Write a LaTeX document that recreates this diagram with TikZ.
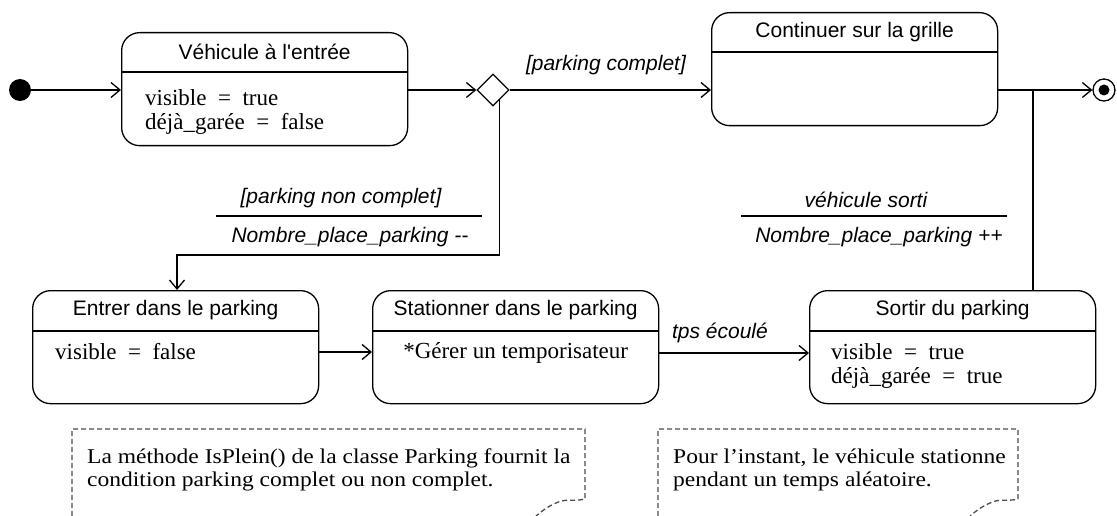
\documentclass[tikz,border=0pt]{standalone}
\usepackage{fontspec}
\setmainfont{Liberation Serif}
\newfontfamily\arialf{Liberation Sans}
\newfontfamily\notef[FakeStretch=1.12]{Liberation Serif}
\usetikzlibrary{arrows.meta,shapes.geometric,calc}
\newcommand{\eqsign}{\enspace=\enspace}
\begin{document}
\begin{tikzpicture}[x=1pt,y=-1pt,
  statebox/.style={draw, line width=1.3pt, rounded corners=18pt, minimum width=286pt, minimum height=113pt, anchor=north west, inner sep=0pt},
  sepline/.style={line width=1.3pt},
  titletxt/.style={font=\arialf\fontsize{21}{25}\selectfont, inner sep=0pt},
  attrtxt/.style={font=\fontsize{23}{25}\selectfont, anchor=west, inner sep=0pt},
  lbl/.style={font=\arialf\itshape\fontsize{21}{25}\selectfont, inner sep=0pt},
  conn/.style={line width=1.3pt},
  arr/.style={conn, -{Straight Barb[length=9pt,width=15pt,line width=1.3pt]}},
  notetxt/.style={font=\notef\fontsize{21}{23}\selectfont, align=left, anchor=north west, inner sep=0pt},
  notebox/.style={dash pattern=on 5pt off 3pt, line width=1.3pt, draw=black!70},
]
\useasboundingbox[fill=white] (0,0) rectangle (1117,516);

% initial state
\node[circle, fill, minimum size=22pt, inner sep=0pt] (init) at (20,90) {};

% Vehicule a l'entree
\node[statebox] (veh) at (121,32) {};
\draw[sepline] ($(veh.north west)+(0,40)$) -- ($(veh.north east)+(0,40)$);
\node[titletxt] (vehT) at ($(veh.north)+(0,20)$) {Véhicule à l\textquotesingle entrée};
\node[attrtxt] (vehA) at ($(veh.north west)+(24,66)$) {visible\eqsign true};
\node[attrtxt] (vehB) at ($(veh.north west)+(24,92)$) {déjà\_garée\eqsign false};

% decision
\node[diamond, draw, line width=1.3pt, minimum width=32pt, minimum height=32pt, inner sep=0pt, fill=white] (dia) at (493,90) {};

% Continuer sur la grille
\node[statebox] (cont) at (711,12) {};
\draw[sepline] ($(cont.north west)+(0,40)$) -- ($(cont.north east)+(0,40)$);
\node[titletxt] (contT) at ($(cont.north)+(0,20)$) {Continuer sur la grille};

% final state
\node[circle, draw, line width=1.3pt, fill=white, minimum size=22pt, inner sep=0pt] (fin) at (1104,90) {};
\node[circle, fill, minimum size=11pt, inner sep=0pt] (finIn) at (fin.center) {};

% lower states
\node[statebox] (ent) at (32,290) {};
\draw[sepline] ($(ent.north west)+(0,41)$) -- ($(ent.north east)+(0,41)$);
\node[titletxt] (entT) at ($(ent.north)+(0,20)$) {Entrer dans le parking};
\node[attrtxt] (entA) at ($(ent.north west)+(23,62)$) {visible\eqsign false};

\node[statebox] (stat) at (372,290) {};
\draw[sepline] ($(stat.north west)+(0,41)$) -- ($(stat.north east)+(0,41)$);
\node[titletxt] (statT) at ($(stat.north)+(0,20)$) {Stationner dans le parking};
\node[attrtxt, anchor=center] (statA) at ($(stat.north)+(0,63)$) {*Gérer un temporisateur};

\node[statebox] (sortir) at (809,290) {};
\draw[sepline] ($(sortir.north west)+(0,41)$) -- ($(sortir.north east)+(0,41)$);
\node[titletxt] (sortT) at ($(sortir.north)+(0,20)$) {Sortir du parking};
\node[attrtxt] (sortA) at ($(sortir.north west)+(22,62)$) {visible\eqsign true};
\node[attrtxt] (sortB) at ($(sortir.north west)+(22,88)$) {déjà\_garée\eqsign true};

% connectors
\draw[arr] (init) -- (init -| veh.west);
\draw[arr] (veh.east |- dia) -- (dia.west);
\draw[arr] (dia.east) -- (dia.east -| cont.west);
\node[lbl] (lblC) at (606,65) {[parking complet]};
\coordinate (j) at (1033,90);
\draw[arr] (cont.east |- dia) -- (fin.west);
\draw[conn] (sortir.north -| j) -- (j);

\coordinate (dstart) at ($(dia.south)!0.375!(dia.east)$);
\coordinate (bend) at (177,255);
\draw[arr] (dstart) |- (bend) -- (bend |- ent.north);

\node[lbl] (lblNC) at (341,198) {[parking non complet]};
\draw[conn] (216,216) -- (482,216);
\node[lbl] (lblNM) at (350,237) {Nombre\_place\_parking --};

\node[lbl] (lblVS) at (866,200) {véhicule sorti};
\draw[conn] (741,216) -- (1007,216);
\node[lbl] (lblNP) at (879,237) {Nombre\_place\_parking ++};

\draw[arr] (ent.east |- entA) -- (entA -| stat.west);
\draw[arr] (stat.east |- statA) -- (statA -| sortir.west);
\node[lbl] (lblT) at (720,333) {tps écoulé};

% notes
\draw[notebox] (72,516) -- (72,429) -- (585,429) -- (585,499)
  .. controls (572,502) and (566,498) .. (556,503) .. controls (547,507) and (542,511) .. (536,516);
\node[notetxt] (n1) at (87,449) {La méthode IsPlein() de la classe Parking fournit la\\condition parking complet ou non complet.};

\draw[notebox] (658,516) -- (658,429) -- (1018,429) -- (1018,499)
  .. controls (1006,502) and (1000,498) .. (990,503) .. controls (981,507) and (976,511) .. (970,516);
\node[notetxt] (n2) at (673,449) {Pour l’instant, le véhicule stationne\\pendant un temps aléatoire.};
\end{tikzpicture}
\end{document}
